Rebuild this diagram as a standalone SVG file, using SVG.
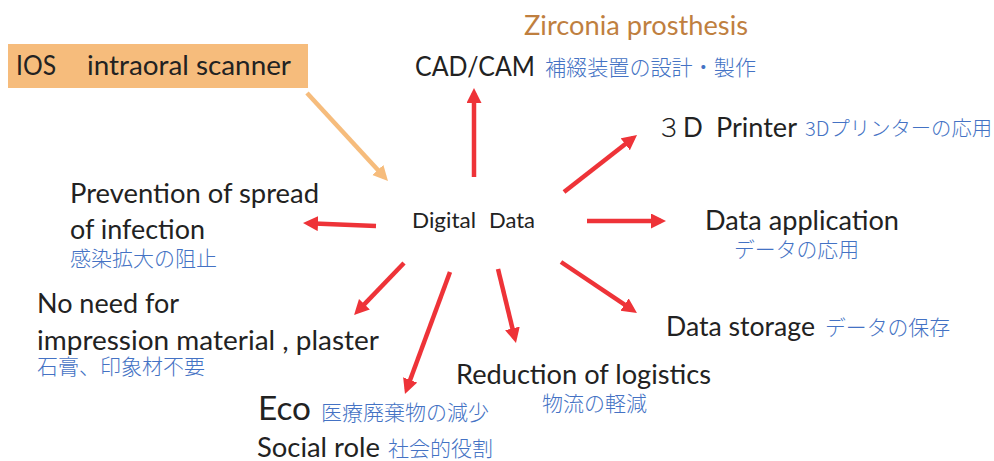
<svg xmlns="http://www.w3.org/2000/svg" width="994" height="461" viewBox="0 0 994 461">
  <style>
    .lbl { font-family: Lato, "Liberation Sans", sans-serif; font-size: 26px; fill: #222; }
    .ja { font-family: "Noto Sans CJK JP", "Noto Sans", sans-serif; font-size: 21px; fill: #4472C4; font-weight: 300; }
    .red { stroke: #EE3338; stroke-width: 4.5; fill: none; marker-end: url(#headRed); }
    .org { stroke: #F6BC7C; stroke-width: 4.5; fill: none; marker-end: url(#headOrg); }
  </style>
  <defs>
    <marker id="headRed" markerUnits="userSpaceOnUse" markerWidth="16" markerHeight="16" refX="10" refY="7.5" orient="auto">
      <path d="M0,0 L15,7.5 L0,15 z" fill="#EE3338"/>
    </marker>
    <marker id="headOrg" markerUnits="userSpaceOnUse" markerWidth="16" markerHeight="16" refX="10" refY="7.5" orient="auto">
      <path d="M0,0 L15,7.5 L0,15 z" fill="#F6BC7C"/>
    </marker>
  </defs>

  <rect width="994" height="461" fill="#fff"/>

  <!-- input device -->
  <g id="ios">
    <rect x="8" y="44" width="300" height="44" fill="#F6BC7C"/>
    <text class="lbl" y="75"><tspan x="16" textLength="40" lengthAdjust="spacingAndGlyphs">IOS</tspan><tspan x="87" textLength="204" lengthAdjust="spacingAndGlyphs">intraoral scanner</tspan></text>
  </g>

  <!-- hub -->
  <g id="digital-data">
    <text class="lbl" y="228" style="font-size:22px"><tspan x="412" textLength="64" lengthAdjust="spacingAndGlyphs">Digital</tspan><tspan x="489" textLength="46" lengthAdjust="spacingAndGlyphs">Data</tspan></text>
  </g>

  <g id="cadcam">
    <text class="lbl" x="524" y="35" style="fill:#BF7F3F" textLength="224" lengthAdjust="spacingAndGlyphs">Zirconia prosthesis</text>
    <text class="lbl" x="415" y="76" textLength="120" lengthAdjust="spacingAndGlyphs">CAD/CAM</text>
    <text class="ja" x="545" y="75" textLength="211" lengthAdjust="spacingAndGlyphs">補綴装置の設計・製作</text>
  </g>

  <g id="printer">
    <text class="lbl" y="137"><tspan x="656" style="font-family:'Noto Sans CJK JP',sans-serif;font-weight:300;font-size:26px">３</tspan><tspan x="683">D</tspan><tspan x="716" textLength="81" lengthAdjust="spacingAndGlyphs">Printer</tspan></text>
    <text class="ja" x="805" y="136" style="font-size:20px" textLength="187" lengthAdjust="spacingAndGlyphs">3Dプリンターの応用</text>
  </g>

  <g id="data-application">
    <text class="lbl" x="705" y="230" textLength="194" lengthAdjust="spacingAndGlyphs">Data application</text>
    <text class="ja" x="734" y="257" textLength="125" lengthAdjust="spacingAndGlyphs">データの応用</text>
  </g>

  <g id="data-storage">
    <text class="lbl" x="666" y="336" textLength="149" lengthAdjust="spacingAndGlyphs">Data storage</text>
    <text class="ja" x="825" y="335" textLength="125" lengthAdjust="spacingAndGlyphs">データの保存</text>
  </g>

  <g id="logistics">
    <text class="lbl" x="456" y="384" textLength="255" lengthAdjust="spacingAndGlyphs">Reduction of logistics</text>
    <text class="ja" x="542" y="411" textLength="105" lengthAdjust="spacingAndGlyphs">物流の軽減</text>
  </g>

  <g id="eco">
    <text class="lbl" x="258" y="420" style="font-size:33px" textLength="53" lengthAdjust="spacingAndGlyphs">Eco</text>
    <text class="ja" x="321" y="420" textLength="168" lengthAdjust="spacingAndGlyphs">医療廃棄物の減少</text>
    <text class="lbl" x="257" y="457" textLength="123" lengthAdjust="spacingAndGlyphs">Social role</text>
    <text class="ja" x="388" y="456" textLength="105" lengthAdjust="spacingAndGlyphs">社会的役割</text>
  </g>

  <g id="impression">
    <text class="lbl" x="37" y="313" textLength="142" lengthAdjust="spacingAndGlyphs">No need for</text>
    <text class="lbl" x="37" y="350" textLength="342" lengthAdjust="spacingAndGlyphs">impression material , plaster</text>
    <text class="ja" x="37" y="374" textLength="168" lengthAdjust="spacingAndGlyphs">石膏、印象材不要</text>
  </g>

  <g id="infection">
    <text class="lbl" x="70" y="203" textLength="249" lengthAdjust="spacingAndGlyphs">Prevention of spread</text>
    <text class="lbl" x="70" y="239" textLength="135" lengthAdjust="spacingAndGlyphs">of infection</text>
    <text class="ja" x="70" y="266" textLength="147" lengthAdjust="spacingAndGlyphs">感染拡大の阻止</text>
  </g>

  <!-- connectors: line ends stop short so the marker tip lands on the target point -->
  <g id="connectors">
    <line class="org" x1="307" y1="93" x2="384.6" y2="177.3"/>
    <line class="red" x1="474" y1="177" x2="474" y2="93"/>
    <line class="red" x1="564" y1="192" x2="633.1" y2="138.1"/>
    <line class="red" x1="587" y1="221" x2="661" y2="221"/>
    <line class="red" x1="561" y1="262" x2="632.8" y2="310.2"/>
    <line class="red" x1="498" y1="269" x2="514.8" y2="338.1"/>
    <line class="red" x1="450" y1="272" x2="406.7" y2="389.3"/>
    <line class="red" x1="404" y1="263" x2="357.5" y2="311.4"/>
    <line class="red" x1="376" y1="226" x2="308" y2="223.2"/>
  </g>
</svg>
